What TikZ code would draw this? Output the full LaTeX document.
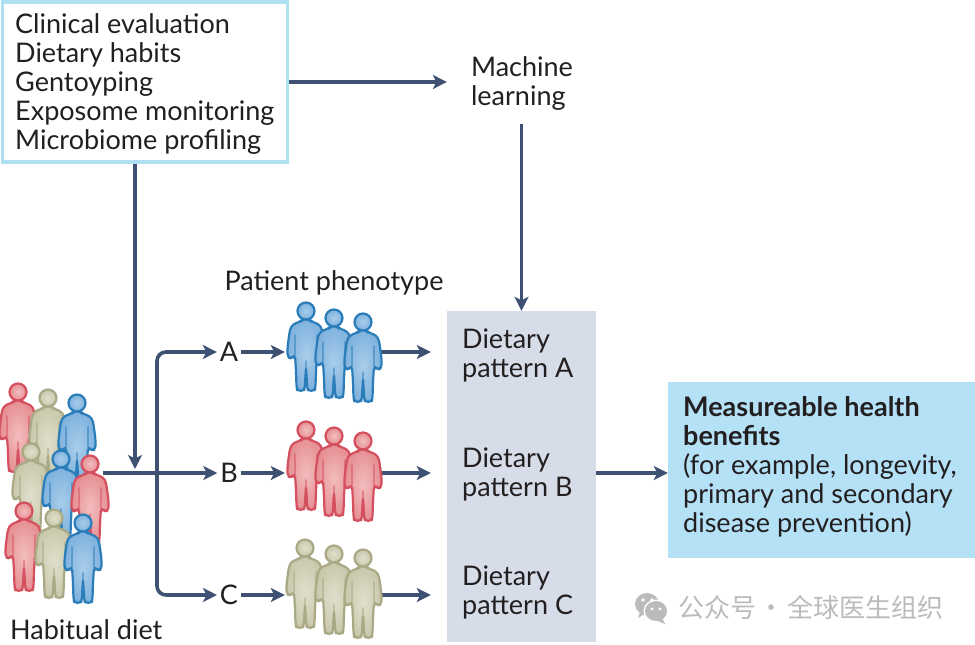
\documentclass[tikz,border=0pt]{standalone}
\usepackage{fontspec}
\setmainfont{Lato}
\newfontfamily\cjkfont{Noto Sans CJK SC}
\usetikzlibrary{arrows.meta}
\definecolor{linkcol}{HTML}{3E5173}
\definecolor{frameblue}{HTML}{AEE0F1}
\definecolor{boxblue}{HTML}{B4E1F6}
\definecolor{panelgrey}{HTML}{D6DDE8}
\definecolor{inkcol}{HTML}{231F20}
\definecolor{markgrey}{HTML}{BBBBBB}
\definecolor{blueF}{HTML}{7FB2DE}\definecolor{blueL}{HTML}{A8CDEA}\definecolor{blueE}{HTML}{2A7DB8}
\definecolor{redF}{HTML}{E68F94}\definecolor{redL}{HTML}{F2BDBD}\definecolor{redE}{HTML}{D4505F}
\definecolor{tanF}{HTML}{C9C8AC}\definecolor{tanL}{HTML}{E0DFCC}\definecolor{tanE}{HTML}{A9A985}
\tikzset{
  x=1pt,y=-1pt,
  label text/.style={font=\fontsize{27}{29}\selectfont,text=inkcol,inner sep=0pt,align=left},
  link/.style={draw=linkcol,line width=3.6pt,-{Stealth[length=14pt,width=14pt,inset=3.5pt]}},
  spot/.style={inner sep=0pt,minimum width=96pt,minimum height=10pt},
  pics/person/.style n args={3}{code={
    \path[draw=#3,line width=2.2pt,line join=round,inner color=#2,outer color=#1,rounded corners=3.5pt]
      (-3,8) -- (-5,10.5) -- (-13,13) -- (-16,18) -- (-18.5,36) -- (-18.5,46.5) -- (-14,47.5) -- (-11,44)
      -- (-10,60) -- (-9.5,76) -- (-8.5,80) -- (-2,80) -- (-1.2,76) -- (0,56) -- (1.2,76) -- (2,80)
      -- (8.5,80) -- (9.5,76) -- (10,60) -- (11,44) -- (14,47.5) -- (18.5,46.5) -- (18.5,36) -- (16,18)
      -- (13,13) -- (5,10.5) -- (3,8) -- cycle;
    \draw[#3,opacity=.5,line width=1.8pt,line cap=round]
      (-11,24) -- (-11,44) (11,24) -- (11,44) (0,50) -- (0,75);
    \draw[#3,inner color=#2,outer color=#1,line width=2.2pt] (0,0) circle[radius=8.5pt];
  }}
}
\begin{document}
\begin{tikzpicture}
\useasboundingbox[fill=white] (0,0) rectangle (975,645);

% Measurement box, learning step, decision panel and outcome
\node[draw=frameblue,line width=3.5pt,minimum width=285pt,minimum height=160pt,inner sep=0pt] (sources) at (145,82) {};
\node[label text,anchor=west] (sourcesText) at (15,84.5)
  {Clinical evaluation\\Dietary habits\\Gentoyping\\Exposome monitoring\\Microbiome profiling};
\node[label text] (ml) at (522,84) {Machine\\learning};
\node[fill=panelgrey,minimum width=149pt,minimum height=331pt,inner sep=0pt] (panel) at (521.5,476.5) {};
\node[fill=boxblue,minimum width=307pt,minimum height=176pt,inner sep=0pt] (outcome) at (821.5,470) {};
\node[label text,anchor=west] (outcomeText) at (683,466.5)
  {\textbf{Measureable health}\\\textbf{benefits}\\(for example, longevity,\\primary and secondary\\disease prevention)};

\node[label text,anchor=west] (pA) at (462,355) {Dietary\\pattern A};
\node[label text,anchor=west] (pB) at (462,474.5) {Dietary\\pattern B};
\node[label text,anchor=west] (pC) at (462,592) {Dietary\\pattern C};

\node[label text] (phen) at (334,283) {Patient phenotype};
\node[label text,anchor=west] (habit) at (10,630) {Habitual diet};

\node[label text,outer sep=3pt] (A) at (229,352) {A};
\node[label text,outer sep=3pt] (B) at (229,473) {B};
\node[label text,outer sep=3pt] (C) at (229,595) {C};

% Anchors standing for the groups of people
\node[inner sep=0pt,minimum width=102pt,minimum height=10pt] (crowd) at (52,473) {};
\node[spot] (grpA) at (333,352) {};
\node[spot] (grpB) at (333,473) {};
\node[spot] (grpC) at (333,595) {};
\coordinate (fork) at (157,473);
\coordinate (drop) at (135,473);

% Connectors
\draw[link,shorten >=24pt] (sources.east) -- (sources.east -| ml.west);
\draw[link,shorten <=13pt] (panel.north |- ml.south) -- (panel.north);
\draw[link,shorten >=4pt] (drop |- sources.south) -- (drop);
\draw[link] (crowd.east) -- (B);
\draw[link,rounded corners=9pt] (fork) |- (A);
\draw[link,rounded corners=9pt] (fork) |- (C);
\foreach \n in {A,B,C}{
  \draw[link] (\n) -- (grp\n);
  \draw[link,shorten >=16pt] (grp\n.east) -- (panel.west |- grp\n);
}
\draw[link] (panel.east |- grpB) -- (outcome.west |- grpB);

% Crowd on the left
\pic at (18,392) {person={redF}{redL}{redE}};
\pic at (48,398) {person={tanF}{tanL}{tanE}};
\pic at (77,403) {person={blueF}{blueL}{blueE}};
\pic at (31,452) {person={tanF}{tanL}{tanE}};
\pic at (61,459) {person={blueF}{blueL}{blueE}};
\pic at (90,464) {person={redF}{redL}{redE}};
\pic at (24,511) {person={redF}{redL}{redE}};
\pic at (54,518) {person={tanF}{tanL}{tanE}};
\pic at (83,523) {person={blueF}{blueL}{blueE}};

% Phenotype groups
\pic at (306,311) {person={blueF}{blueL}{blueE}};
\pic at (334,318) {person={blueF}{blueL}{blueE}};
\pic at (363,322) {person={blueF}{blueL}{blueE}};
\pic at (306,430) {person={redF}{redL}{redE}};
\pic at (334,436) {person={redF}{redL}{redE}};
\pic at (363,441) {person={redF}{redL}{redE}};
\pic at (305,548) {person={tanF}{tanL}{tanE}};
\pic at (334,554) {person={tanF}{tanL}{tanE}};
\pic at (363,558) {person={tanF}{tanL}{tanE}};

% Account mark, lower right
\fill[markgrey] (647,604) circle[x radius=12pt,y radius=11pt];
\fill[markgrey] (640,612) -- (638,618) -- (646,613) -- cycle;
\fill[white] (656,611) circle[x radius=12.5pt,y radius=11.5pt];
\fill[markgrey] (656,611) circle[x radius=11pt,y radius=10pt];
\fill[markgrey] (662,618) -- (665,624) -- (656,620) -- cycle;
\fill[white] (643,600) circle[radius=1.8pt] (652,600) circle[radius=1.8pt]
             (652,609) circle[radius=1.6pt] (660,609) circle[radius=1.6pt];
\node[inner sep=0pt,anchor=west,text=markgrey,font=\cjkfont\fontsize{26}{28}\selectfont] (mark) at (678,607)
  {公众号\hspace{2.5pt}·\hspace{2.5pt}全球医生组织};
\end{tikzpicture}
\end{document}
